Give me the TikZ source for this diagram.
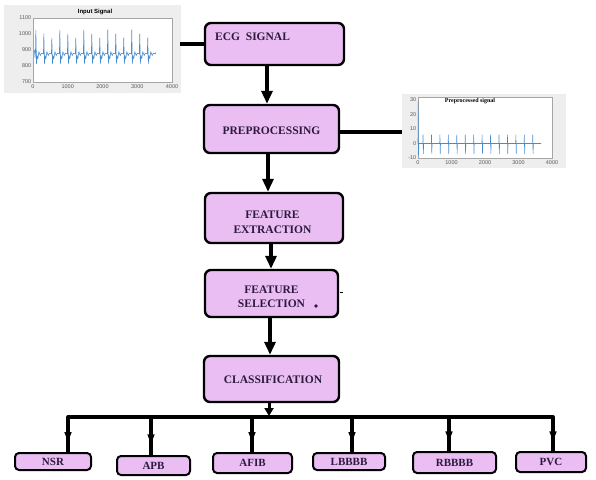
\documentclass[tikz,border=0pt]{standalone}
\usepackage{fontspec}
\setmainfont{Liberation Serif}
\setsansfont{Liberation Sans}
\usetikzlibrary{arrows.meta,decorations.markings}
\definecolor{boxfill}{RGB}{234,190,243}
\definecolor{txt}{RGB}{45,25,60}
\definecolor{sig}{RGB}{70,140,205}
\definecolor{framebg}{RGB}{238,238,238}
\definecolor{ticktxt}{RGB}{90,90,90}
\begin{document}
\begin{tikzpicture}[x=1pt,y=-1pt,
  stagebox/.style={draw=black, line width=2.4pt, fill=boxfill, rounded corners=6pt, inner sep=0pt},
  lbl/.style={font=\fontsize{11.5}{14.5}\selectfont\bfseries, text=txt, align=center, inner sep=0pt},
  smallbox/.style={stagebox, line width=2pt, rounded corners=4pt, font=\fontsize{11}{12}\selectfont\bfseries, text=txt},
  flow/.style={line width=4.5pt, -{Triangle[length=13pt,width=11pt]}},
  link/.style={line width=4pt},
  bus/.style={line width=3.8pt, line cap=round},
  drop/.style={line width=3.2pt, postaction={decorate}, decoration={markings, mark=at position 0.72 with {\arrow{Triangle[length=10pt,width=6.5pt]}}}},
  tick/.style={font=\sffamily\fontsize{5.5}{5.5}\selectfont, text=ticktxt, inner sep=0.6pt},
]
\fill[white] (0,0) rectangle (596,479);
\useasboundingbox (0,0) rectangle (596,479);

% ---------- input signal plot ----------
\fill[framebg] (4,5) rectangle (181,93);
\fill[white] (33,18) rectangle (172,82);
\draw[gray!70, line width=0.4pt] (33,18) rectangle (172,82);
\foreach \v/\yy in {1100/18,1000/34,900/50,800/66,700/82}
  \node[tick, anchor=east] at (32,\yy) {\v};
\foreach \t/\xx in {0/33,1000/67.75,2000/102.5,3000/137.25,4000/172}
  \node[tick, anchor=north] at (\xx,83.5) {\t};
\node[font=\sffamily\bfseries\fontsize{6}{6}\selectfont, inner sep=0pt] (intitle) at (95,11.5) {Input Signal};
\begin{scope}[shift={(33,82)}, x=0.03475pt, y=0.16pt]
  \draw[sig, line width=0.55pt, line join=round] (40,200) -- (60,150) -- (70,175)
    \foreach \k [evaluate=\k as \h using {150-25*mod(\k,3)}] in {0,...,14} {
      -- ++(12,\h) -- ++(18,-\h-60) -- ++(15,50) -- ++(25,-20) -- ++(30,45) -- ++(40,-25) -- ++(30,15) -- ++(60,-5)
    } -- ++(20,10);
\end{scope}
\coordinate (inR) at (180,44);

% ---------- preprocessed signal plot ----------
\fill[framebg] (402,94) rectangle (566,168);
\fill[white] (418,97) rectangle (552,158);
\draw[gray!70, line width=0.4pt] (418,97) rectangle (552,158);
\foreach \v/\yy in {30/100,20/114.5,10/129,0/143.5,-10/158}
  \node[tick, anchor=east] at (417,\yy) {\v};
\foreach \t/\xx in {0/418,1000/451.5,2000/485,3000/518.5,4000/552}
  \node[tick, anchor=north] at (\xx,159.5) {\t};
\node[font=\bfseries\fontsize{6}{6}\selectfont, inner sep=0pt] (pptitle) at (470,101) {Preprocessed signal};
\begin{scope}[shift={(418,143.5)}, x=0.0335pt, y=1.45pt]
  \draw[sig, line width=0.55pt, line join=round] (0,0) -- (4,29) -- (14,-8) -- (28,0) -- (145,0)
    \foreach \k in {0,...,13} {
      -- ++(5,6) -- ++(10,-13) -- ++(8,7) -- ++(229,0)
    };
\end{scope}
\coordinate (ppL) at (402,132);

% ---------- main stages ----------
\node[stagebox, minimum width=139pt, minimum height=42pt] (ecg) at (274.5,44) {};
\node[lbl, anchor=west] (ecgt) at (215,37) {ECG\ \ SIGNAL};

\node[stagebox, minimum width=135pt, minimum height=48pt] (pre) at (271.5,129) {};
\node[lbl] (pret) at (271.5,131) {PREPROCESSING};

\node[stagebox, minimum width=138pt, minimum height=50pt] (fe) at (274,218) {};
\node[lbl] (fet) at (272.5,222.5) {FEATURE\\EXTRACTION};

\node[stagebox, minimum width=133pt, minimum height=47pt] (fs) at (271.5,293.5) {};
\node[lbl] (fst) at (271.5,297) {FEATURE\\SELECTION};
\fill[txt] (316,306) circle (1.8);
\draw[line width=0.6pt] (339.5,292) -- (343,292);

\node[stagebox, minimum width=135pt, minimum height=46pt] (cls) at (271.5,379) {};
\node[lbl] (clst) at (273,380) {CLASSIFICATION};

% ---------- classes ----------
\node[smallbox, minimum width=76pt, minimum height=17pt] (nsr) at (53,461.5) {NSR};
\node[smallbox, minimum width=73pt, minimum height=19pt] (apb) at (153.5,465.5) {APB};
\node[smallbox, minimum width=79pt, minimum height=20pt] (afib) at (252.5,463) {AFIB};
\node[smallbox, minimum width=72pt, minimum height=17pt] (lbbbb) at (349,461.5) {LBBBB};
\node[smallbox, minimum width=83pt, minimum height=21pt] (rbbbb) at (454.5,462.5) {RBBBB};
\node[smallbox, minimum width=70pt, minimum height=20pt] (pvc) at (551,462) {PVC};

% ---------- connectors ----------
\draw[link] (inR) -- (ecg.west);
\draw[link] ([yshift=-3pt]pre.east) -- (ppL);

\draw[flow] ([xshift=-7.5pt]ecg.south) -- ([xshift=-7.5pt]ecg.south |- pre.north);
\draw[flow] ([xshift=-3.5pt]pre.south) -- ([xshift=-3.5pt]pre.south |- fe.north);
\draw[flow] ([xshift=-3pt]fe.south) -- ([xshift=-3pt]fe.south |- fs.north);
\draw[flow] ([xshift=-1.5pt]fs.south) -- ([xshift=-1.5pt]fs.south |- cls.north);

\coordinate (b1) at (68,417);
\coordinate (b2) at (151,417);
\coordinate (b3) at (252,417);
\coordinate (bm) at (269,417);
\coordinate (b4) at (352,417);
\coordinate (b5) at (449,417);
\coordinate (b6) at (553,417);

\draw[line width=3pt, -{Triangle[length=8pt,width=9pt]}] (cls.south -| bm) -- ([yshift=1pt]bm);
\draw[bus] (b1) -- (b6);
\draw[drop] (b1) -- (b1 |- nsr.north);
\draw[drop] (b2) -- (b2 |- apb.north);
\draw[drop] (b3) -- (b3 |- afib.north);
\draw[drop] (b4) -- (b4 |- lbbbb.north);
\draw[drop] (b5) -- (b5 |- rbbbb.north);
\draw[drop] (b6) -- (b6 |- pvc.north);
\end{tikzpicture}
\end{document}
